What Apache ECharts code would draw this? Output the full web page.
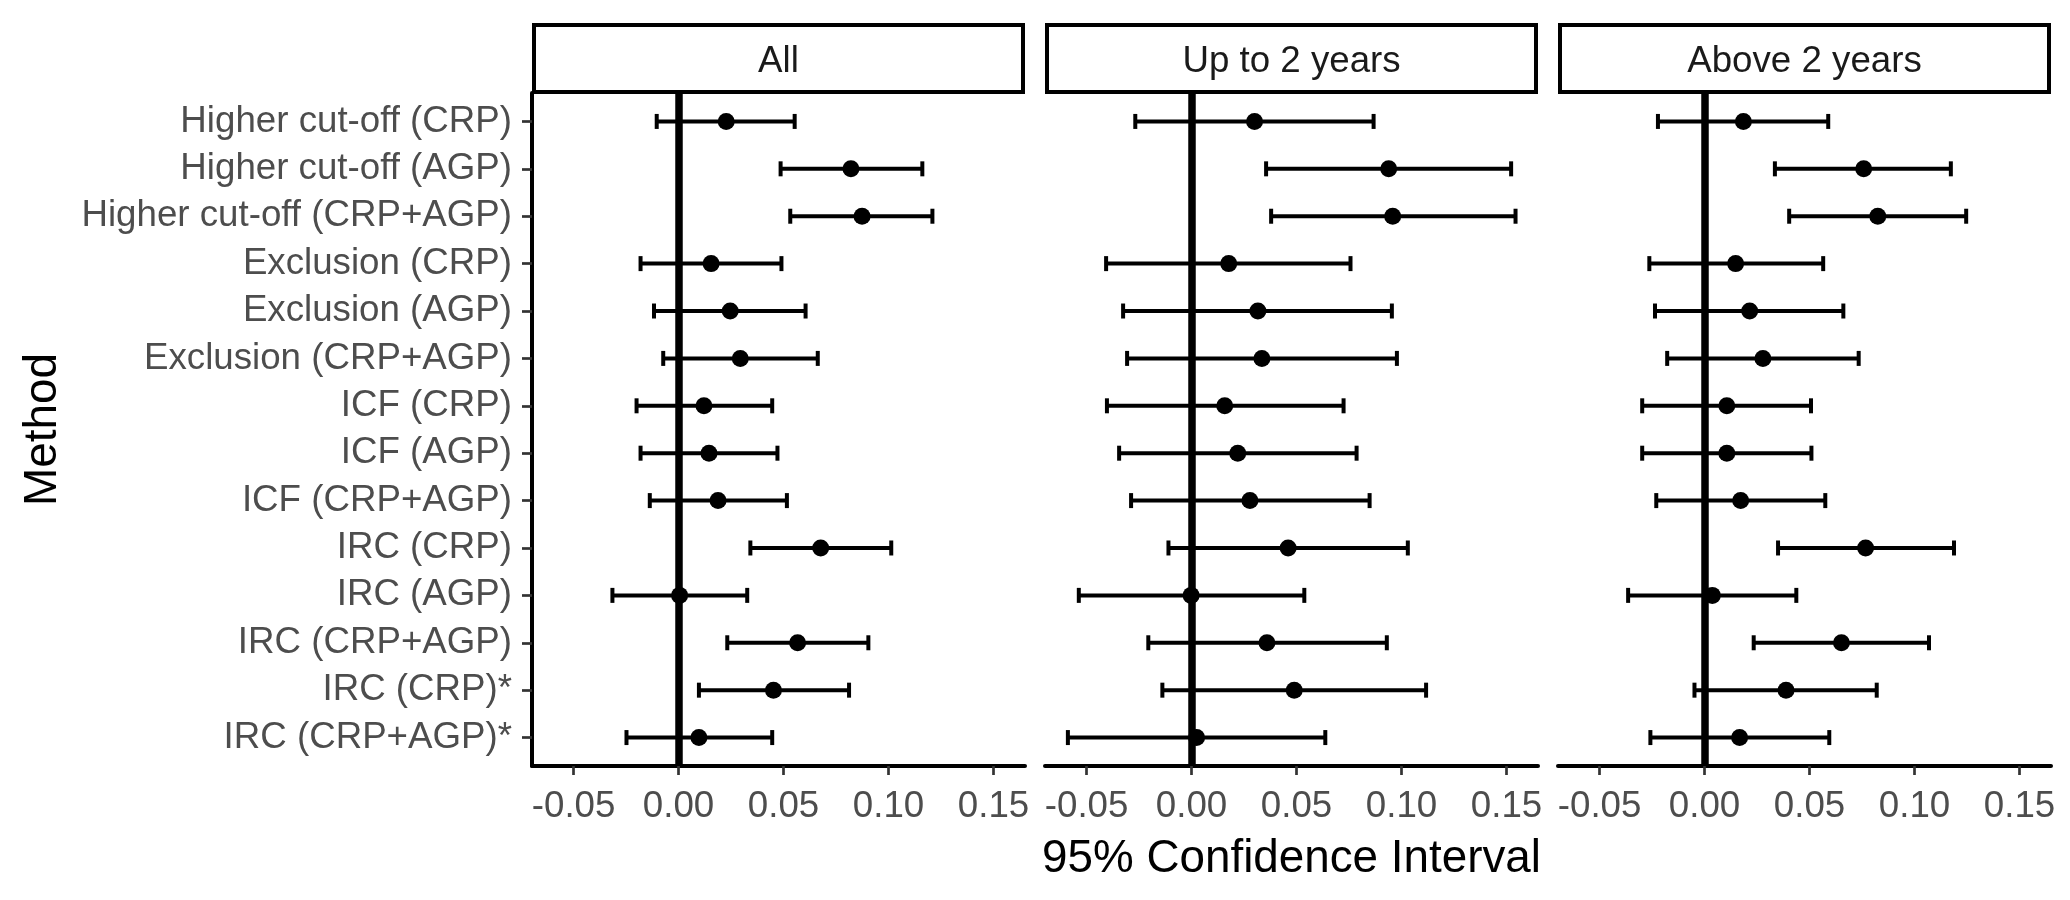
<!DOCTYPE html>
<html>
<head>
<meta charset="utf-8">
<script src="https://cdn.jsdelivr.net/npm/echarts@6/dist/echarts.min.js"></script>
<style>
html,body{margin:0;padding:0;background:#fff;}
#chart{width:2070px;height:900px;}
</style>
</head>
<body>
<div id="chart"></div>
<script>
const categories = ["Higher cut-off (CRP)", "Higher cut-off (AGP)", "Higher cut-off (CRP+AGP)",
  "Exclusion (CRP)", "Exclusion (AGP)", "Exclusion (CRP+AGP)",
  "ICF (CRP)", "ICF (AGP)", "ICF (CRP+AGP)",
  "IRC (CRP)", "IRC (AGP)", "IRC (CRP+AGP)", "IRC (CRP)*", "IRC (CRP+AGP)*"];
const panels = ["All", "Up to 2 years", "Above 2 years"];
const xTicks = [-0.05, 0.00, 0.05, 0.10, 0.15];
const xTitle = "95% Confidence Interval";
const yTitle = "Method";

const allEst  = [0.0227, 0.0821, 0.0874, 0.0155, 0.0246, 0.0294, 0.0121, 0.0145, 0.0188, 0.0677, 0.0005, 0.0567, 0.0452, 0.0097];
const allLow  = [-0.0104, 0.0486, 0.0532, -0.0181, -0.0117, -0.0073, -0.0200, -0.0181, -0.0137, 0.0342, -0.0315, 0.0232, 0.0097, -0.0248];
const allHigh = [0.0553, 0.1161, 0.1209, 0.0490, 0.0605, 0.0663, 0.0446, 0.0471, 0.0516, 0.1013, 0.0327, 0.0904, 0.0812, 0.0446];

const upEst  = [0.0300, 0.0939, 0.0958, 0.0177, 0.0316, 0.0335, 0.0158, 0.0220, 0.0278, 0.0460, -0.0002, 0.0359, 0.0489, 0.0024];
const upLow  = [-0.0268, 0.0355, 0.0379, -0.0407, -0.0326, -0.0307, -0.0403, -0.0345, -0.0288, -0.0110, -0.0537, -0.0206, -0.0139, -0.0589];
const upHigh = [0.0867, 0.1522, 0.1543, 0.0757, 0.0954, 0.0978, 0.0724, 0.0786, 0.0848, 0.1030, 0.0537, 0.0930, 0.1117, 0.0637];

const abEst  = [0.0185, 0.0758, 0.0825, 0.0148, 0.0215, 0.0278, 0.0106, 0.0106, 0.0172, 0.0767, 0.0037, 0.0652, 0.0388, 0.0167];
const abLow  = [-0.0222, 0.0335, 0.0403, -0.0263, -0.0236, -0.0178, -0.0297, -0.0297, -0.0230, 0.0350, -0.0364, 0.0234, -0.0048, -0.0258];
const abHigh = [0.0589, 0.1173, 0.1246, 0.0565, 0.0661, 0.0734, 0.0507, 0.0509, 0.0575, 0.1188, 0.0437, 0.1069, 0.0820, 0.0594];

const panelData = [
  {est: allEst, low: allLow, high: allHigh},
  {est: upEst, low: upLow, high: upHigh},
  {est: abEst, low: abLow, high: abHigh}
];

const FONT = "'Liberation Sans', Arial, Helvetica, sans-serif";
const gridLefts = [532, 1045, 1558];
const gridWidth = 493;
const gridTop = 93;
const gridBottom = 134;
const stripTop = 23;
const stripH = 71;
const rowIdx = categories.map((c, i) => i);

const chart = echarts.init(document.getElementById('chart'), null, {renderer: 'canvas'});

const grids = [], xAxes = [], yAxes = [], series = [], graphics = [];

panels.forEach((name, p) => {
  grids.push({left: gridLefts[p], width: gridWidth, top: gridTop, bottom: gridBottom, containLabel: false});
  xAxes.push({
    type: 'value', gridIndex: p, min: -0.0698, max: 0.165,
    splitLine: {show: false},
    axisLine: {show: true, onZero: false, lineStyle: {color: '#000', width: 4}},
    axisTick: {show: true, customValues: xTicks, length: 9, lineStyle: {color: '#333', width: 2.7}},
    axisLabel: {show: true, customValues: xTicks, margin: 22, color: '#4D4D4D', fontSize: 36.7, fontFamily: FONT,
      formatter: v => v.toFixed(2)},
    name: p === 1 ? xTitle : '', nameLocation: 'middle', nameGap: 70,
    nameTextStyle: {color: '#000', fontSize: 45.8, fontFamily: FONT}
  });
  yAxes.push({
    type: 'value', gridIndex: p, min: -0.6, max: 13.6, inverse: true,
    splitLine: {show: false},
    axisLine: {show: p === 0, onZero: false, lineStyle: {color: '#000', width: 4}},
    axisTick: {show: p === 0, customValues: rowIdx, length: 10, lineStyle: {color: '#333', width: 2.7}},
    axisLabel: {show: p === 0, customValues: rowIdx, margin: 20, color: '#4D4D4D', fontSize: 36.7, fontFamily: FONT,
      formatter: v => categories[Math.round(v)]},
    name: p === 0 ? yTitle : '', nameLocation: 'middle', nameGap: 466, nameRotate: 90,
    nameTextStyle: {color: '#000', fontSize: 45.8, fontFamily: FONT}
  });
  const d = panelData[p];
  series.push({
    type: 'custom', xAxisIndex: p, yAxisIndex: p,
    data: categories.map((c, i) => [d.low[i], d.high[i], i]),
    encode: {x: [0, 1], y: 2},
    renderItem: function (params, api) {
      const a = api.coord([api.value(0), api.value(2)]);
      const b = api.coord([api.value(1), api.value(2)]);
      const st = {stroke: '#000', lineWidth: 4};
      const h = 7.5;
      return {type: 'group', children: [
        {type: 'line', shape: {x1: a[0], y1: a[1], x2: b[0], y2: b[1]}, style: st},
        {type: 'line', shape: {x1: a[0], y1: a[1] - h, x2: a[0], y2: a[1] + h}, style: st},
        {type: 'line', shape: {x1: b[0], y1: b[1] - h, x2: b[0], y2: b[1] + h}, style: st}
      ]};
    },
    z: 3
  });
  series.push({
    type: 'scatter', xAxisIndex: p, yAxisIndex: p,
    data: categories.map((c, i) => [d.est[i], i]),
    symbol: 'circle', symbolSize: 17,
    itemStyle: {color: '#000', opacity: 1},
    z: 4,
    markLine: {
      silent: true, symbol: ['none', 'none'], label: {show: false},
      lineStyle: {color: '#000', width: 7.5, type: 'solid', opacity: 1},
      data: [{xAxis: 0}]
    }
  });
  graphics.push({
    type: 'rect', x: gridLefts[p] + 2, y: stripTop + 2,
    shape: {x: 0, y: 0, width: gridWidth - 4, height: stripH - 4},
    style: {fill: '#fff', stroke: '#000', lineWidth: 4}
  });
  graphics.push({
    type: 'text',
    x: gridLefts[p] + gridWidth / 2, y: stripTop + stripH / 2 + 3,
    style: {text: name, fill: '#1A1A1A', fontSize: 36.7, fontFamily: FONT, align: 'center', verticalAlign: 'middle'}
  });
});

chart.setOption({
  backgroundColor: '#fff',
  animation: false,
  grid: grids,
  xAxis: xAxes,
  yAxis: yAxes,
  series: series,
  graphic: graphics
});
</script>
</body>
</html>
